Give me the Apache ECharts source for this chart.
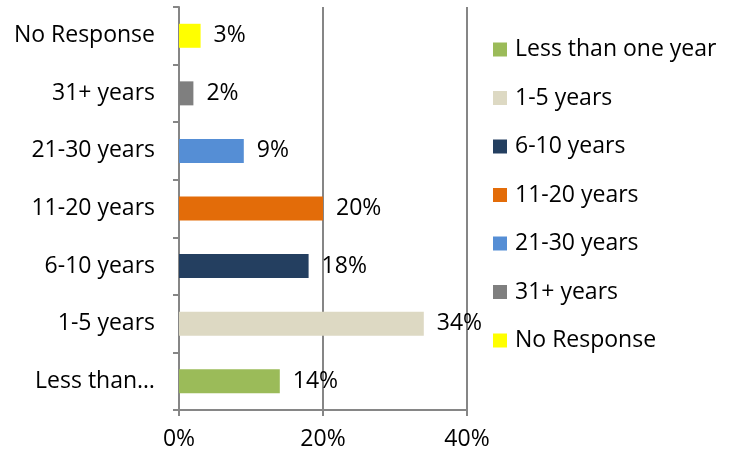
<!DOCTYPE html>
<html>
<head>
<meta charset="utf-8">
<script src="https://cdn.jsdelivr.net/npm/echarts@6/dist/echarts.min.js"></script>
<style>
  html, body { margin: 0; padding: 0; background: #fff; }
  #main { width: 733px; height: 455px; }
</style>
</head>
<body>
<div id="main"></div>
<script>
// y-axis tick labels, bottom to top
var tickLabels = ['Less than\u2026', '1-5 years', '6-10 years', '11-20 years', '21-30 years', '31+ years', 'No Response']
// legend / series names, same order
var seriesNames = ['Less than one year', '1-5 years', '6-10 years', '11-20 years', '21-30 years', '31+ years', 'No Response']
// percent of respondents
var values = [14, 34, 18, 20, 9, 2, 3]
var colors = ['#9BBB59', '#DDD9C3', '#243F60', '#E36C09', '#558ED5', '#7F7F7F', '#FFFF00']
var xTicks = [0, 20, 40]

var font = '"Open Sans", "Liberation Sans", sans-serif'
var axisGray = '#868686'
var fs = 23

var chart = echarts.init(document.getElementById('main'))

/** one series per category so each gets its own legend entry */
var series = seriesNames.map(function (name, i) {
  var data = values.map(function (v, j) { return j === i ? v : '-' })
  return {
    name: name,
    type: 'bar',
    stack: 'all',
    barWidth: 24,
    itemStyle: { color: colors[i] },
    label: {
      show: true,
      position: 'right',
      distance: 13,
      color: '#000',
      fontSize: fs,
      fontFamily: font,
      formatter: '{c}%'
    },
    data: data
  }
})

var option = {
  animation: false,
  textStyle: { fontFamily: font },
  grid: { left: 179, right: 266, top: 7, bottom: 45 },
  legend: {
    orient: 'vertical',
    left: 493,
    top: 38,
    padding: 0,
    icon: 'rect',
    itemWidth: 14,
    itemHeight: 14,
    itemGap: 25.5,
    data: seriesNames,
    textStyle: { fontSize: fs, lineHeight: 20, color: '#000', fontFamily: font, padding: [0, 0, 0, 3] }
  },
  xAxis: {
    type: 'value',
    min: xTicks[0],
    max: xTicks[xTicks.length - 1],
    interval: 20,
    axisLine: { show: true, lineStyle: { color: axisGray, width: 2 } },
    axisTick: { show: true, length: 6, lineStyle: { color: axisGray, width: 2 } },
    axisLabel: { color: '#000', fontSize: fs, margin: 18, formatter: '{value}%' },
    splitLine: { show: true, lineStyle: { color: axisGray, width: 2 } }
  },
  yAxis: {
    type: 'category',
    data: tickLabels,
    axisLine: { show: true, lineStyle: { color: axisGray, width: 2 } },
    axisTick: { show: true, length: 6, lineStyle: { color: axisGray, width: 2 } },
    axisLabel: { color: '#000', fontSize: fs, margin: 24 },
    splitLine: { show: false }
  },
  series: series
}

chart.setOption(option)
</script>
</body>
</html>
